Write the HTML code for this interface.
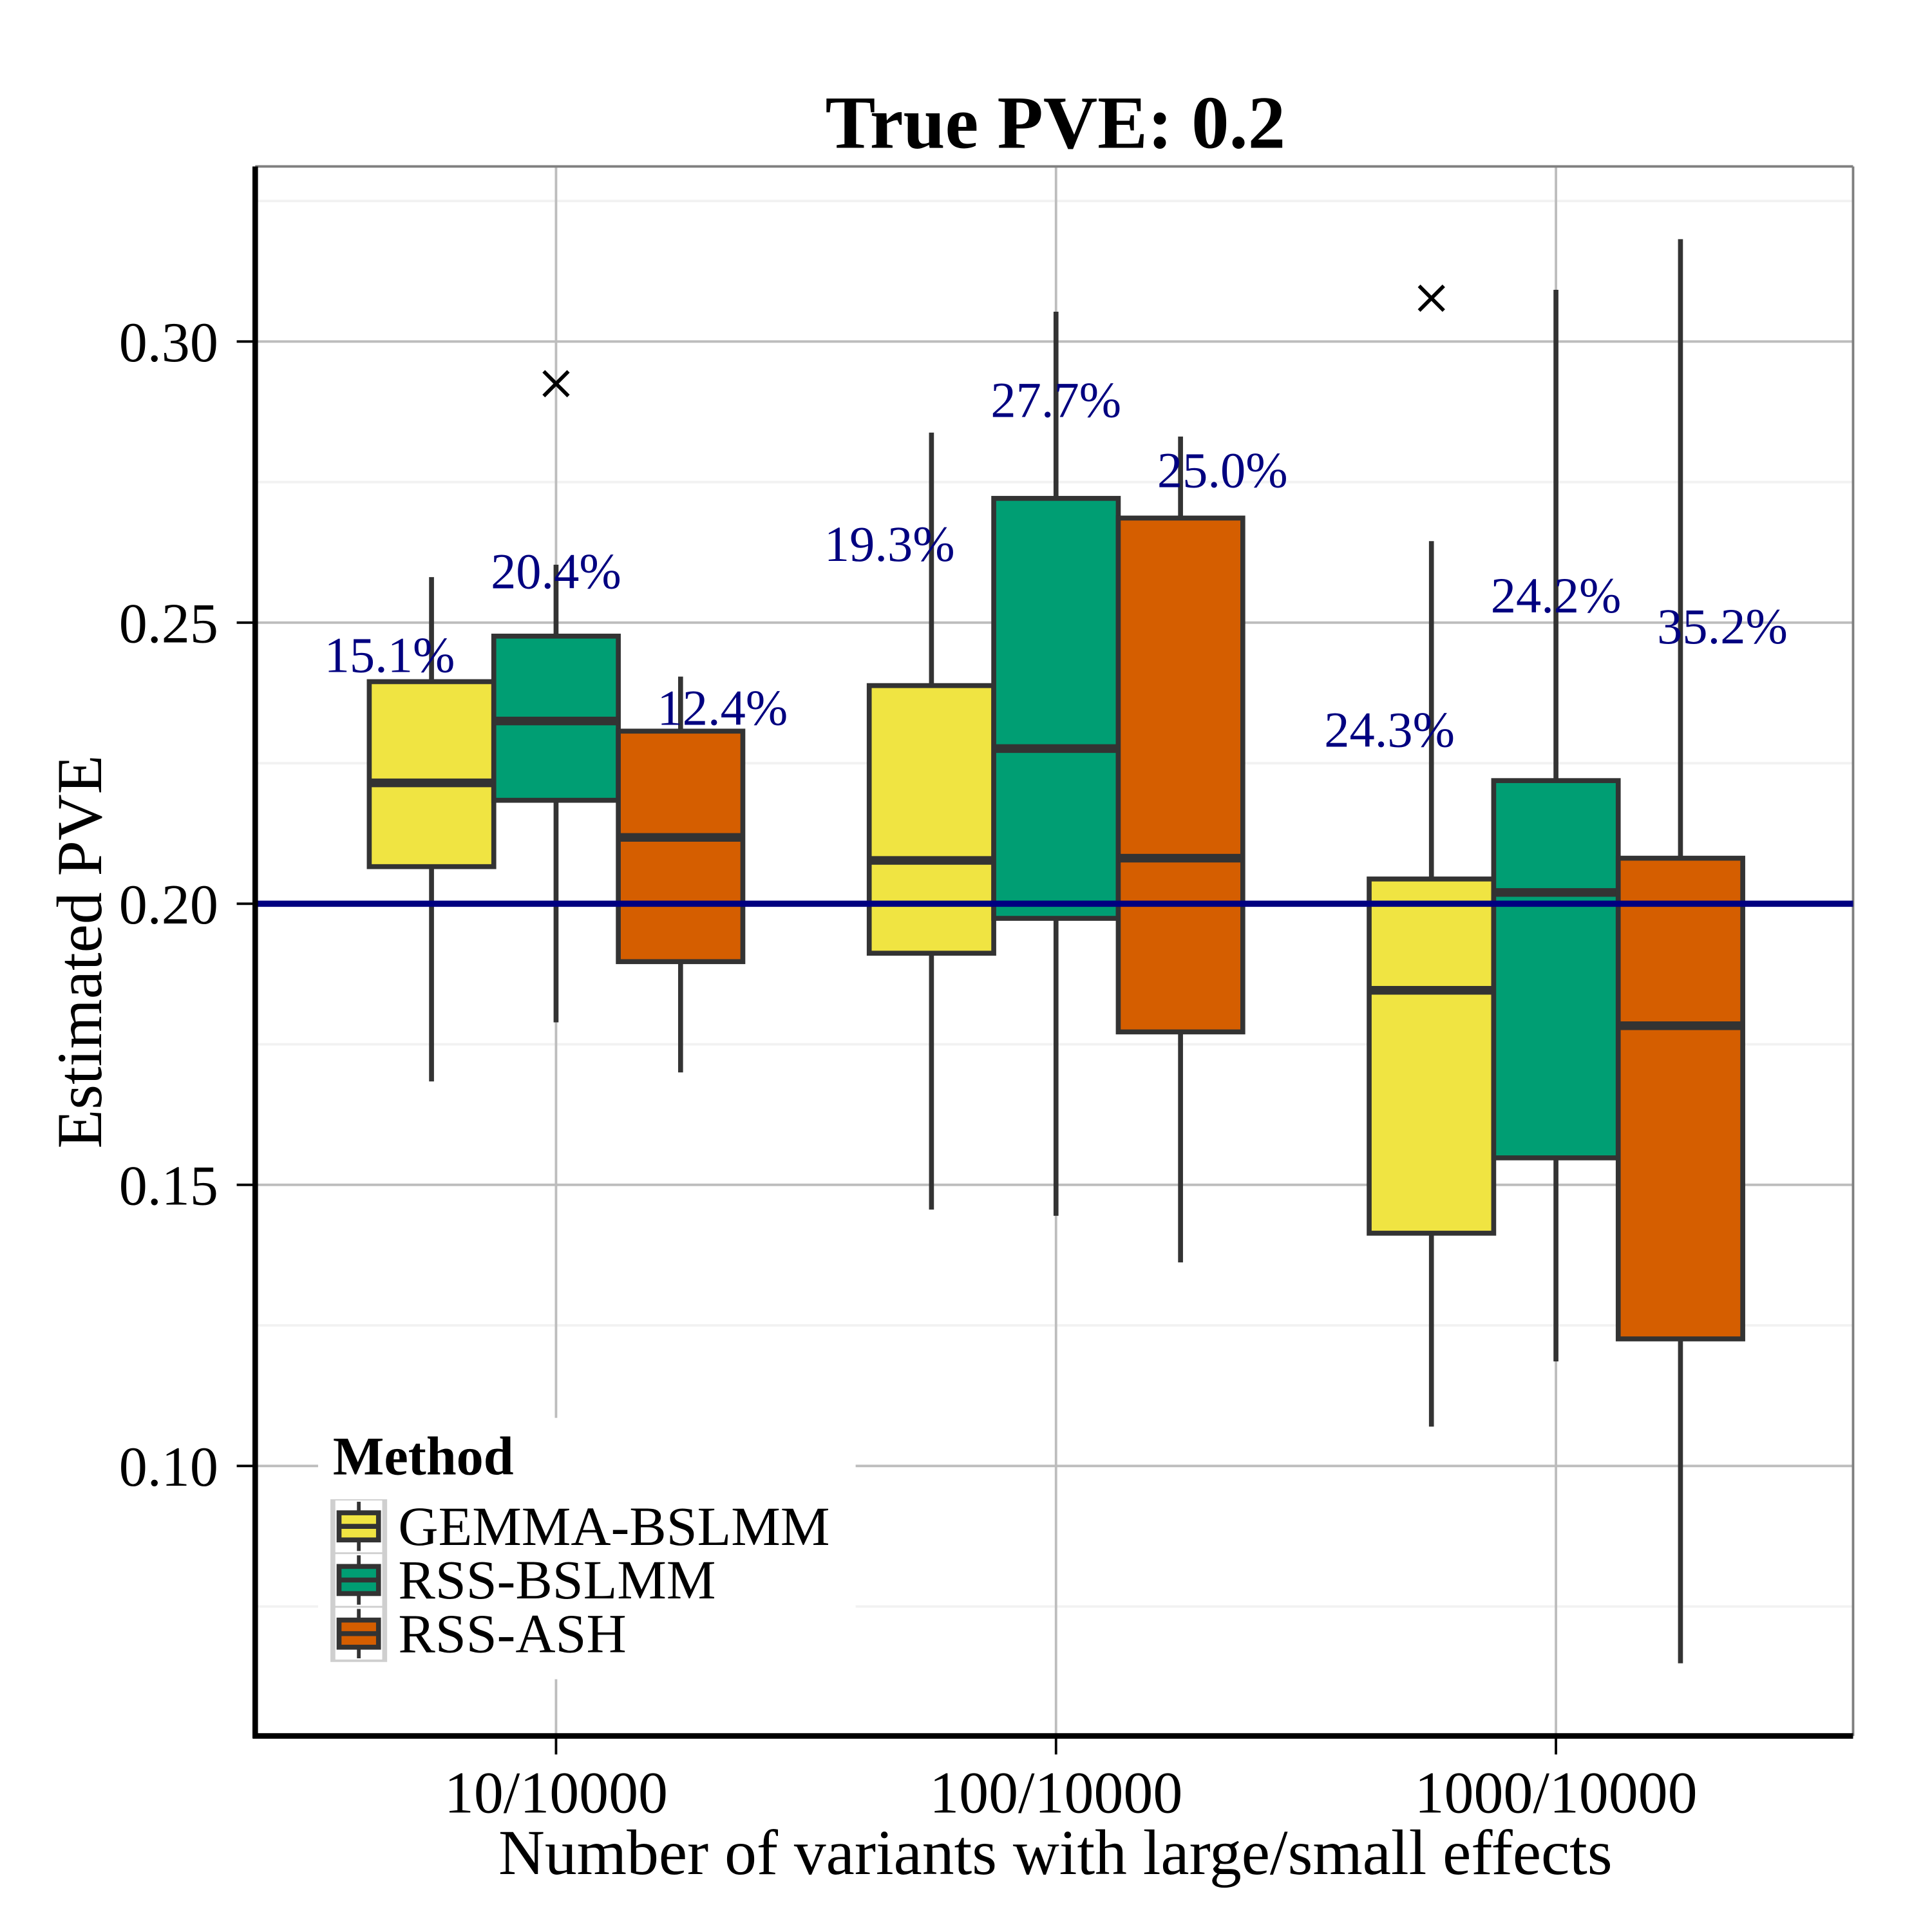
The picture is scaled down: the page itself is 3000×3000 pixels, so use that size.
<!DOCTYPE html>
<html><head><meta charset="utf-8"><style>
html,body{margin:0;padding:0;background:#fff}
svg{display:block}
text{font-family:"Liberation Serif",serif}
</style></head><body>
<svg id="chart" width="3000" height="3000" viewBox="0 0 1567 1567" xmlns="http://www.w3.org/2000/svg">
<rect x="0" y="0" width="1567" height="1567" fill="#fff"/>
<g id="grid"></g>
<g id="marks"></g>
<g id="labels"></g>
<g id="axes"></g>
<text x="856" y="120" text-anchor="middle" font-size="61" font-weight="bold">True PVE: 0.2</text>
<text x="856" y="1520" text-anchor="middle" font-size="52">Number of variants with large/small effects</text>
<text transform="translate(82,772) rotate(-90)" text-anchor="middle" font-size="52">Estimated PVE</text>
<g id="legend"></g>
</svg>
<script>
const categories = ["10/10000","100/10000","1000/10000"];
const methods = ["GEMMA-BSLMM","RSS-BSLMM","RSS-ASH"];
const colors = ["#f0e442","#009e73","#d55e00"];
const yTicks = [0.10,0.15,0.20,0.25,0.30];
const yTickLabels = ["0.10","0.15","0.20","0.25","0.30"];
const yMinor = [0.075,0.125,0.175,0.225,0.275,0.325];
// per group, per method: [low, q1, median, q3, high]
const gemmaStats = [[0.1684,0.2066,0.2215,0.2395,0.2581],[0.1456,0.1912,0.2077,0.2388,0.2838],[0.107,0.1414,0.1846,0.2044,0.2645]];
const bslmmStats = [[0.1789,0.2184,0.2325,0.2476,0.2603],[0.1445,0.1974,0.2276,0.2721,0.3053],[0.1186,0.1548,0.202,0.2219,0.3092]];
const ashStats = [[0.170,0.1897,0.2118,0.2307,0.2404],[0.1362,0.1772,0.2081,0.2686,0.2831],[0.0649,0.1226,0.1783,0.2081,0.3182]];
const outlierGroups = [0,2];
const outlierMethods = [1,0];
const outlierValues = [0.2925,0.3077];
const pctLabels = [["15.1%","20.4%","12.4%"],["19.3%","27.7%","25.0%"],["24.3%","24.2%","35.2%"]];
const pctY = [[0.2412,0.2561,0.2318],[0.2610,0.2866,0.2741],[0.2279,0.2518,0.2463]];
const trueValue = 0.2;

const NS="http://www.w3.org/2000/svg";
const L=207,R=1503,T=135,B=1408;
const y=v=>733-(v-0.2)*4560;
const xc=i=>451+i*405.5;
const BW=101;
function mk(tag,attrs,parent){const e=document.createElementNS(NS,tag);for(const k in attrs)e.setAttribute(k,attrs[k]);parent.appendChild(e);return e;}
const grid=document.getElementById('grid'),marks=document.getElementById('marks'),labels=document.getElementById('labels'),axes=document.getElementById('axes'),legend=document.getElementById('legend');
yMinor.forEach(v=>{const l=mk('line',{x1:L,x2:R,y1:y(v),y2:y(v),stroke:'#f2f2f2','stroke-width':2},grid);

});
yTicks.forEach(v=>{const l=mk('line',{x1:L,x2:R,y1:y(v),y2:y(v),stroke:'#bdbdbd','stroke-width':2},grid);

});
categories.forEach((c,i)=>{const l=mk('line',{x1:xc(i),x2:xc(i),y1:T,y2:B,stroke:'#bdbdbd','stroke-width':2},grid);

});
mk('line',{x1:L,x2:R,y1:T,y2:T,stroke:'#7f7f7f','stroke-width':2},grid);
mk('line',{x1:R,x2:R,y1:T,y2:B,stroke:'#7f7f7f','stroke-width':2},grid);
const allStats=[gemmaStats,bslmmStats,ashStats];
categories.forEach((c,g)=>{methods.forEach((m,k)=>{
 const s=allStats[k][g];const cx=xc(g)+(k-1)*BW;
 const w1=mk('line',{x1:cx,x2:cx,y1:y(s[4]),y2:y(s[3]),stroke:'#333','stroke-width':4},marks);
 
 
 const w2=mk('line',{x1:cx,x2:cx,y1:y(s[1]),y2:y(s[0]),stroke:'#333','stroke-width':4},marks);
 
 
 const b=mk('rect',{x:cx-BW/2,y:y(s[3]),width:BW,height:y(s[1])-y(s[3]),fill:colors[k],stroke:'#333','stroke-width':4},marks);
 
 
 const md=mk('line',{x1:cx-BW/2,x2:cx+BW/2,y1:y(s[2]),y2:y(s[2]),stroke:'#333','stroke-width':7},marks);
 
 
 const t=mk('text',{x:xc(g)+(k-1)*135,y:y(pctY[g][k]),'text-anchor':'middle','font-size':41,fill:'#000080'},labels);
 t.textContent=pctLabels[g][k];
 
 
});});
outlierValues.forEach((v,i)=>{const cx=xc(outlierGroups[i])+(outlierMethods[i]-1)*BW,cy=y(v);
 const p=mk('path',{d:`M${cx-10},${cy-10}L${cx+10},${cy+10}M${cx-10},${cy+10}L${cx+10},${cy-10}`,stroke:'#000','stroke-width':3,fill:'none'},marks);
 
 });
const tl=mk('line',{x1:L,x2:R,y1:y(trueValue),y2:y(trueValue),stroke:'#000080','stroke-width':5},marks);


// legend
const lb=mk('rect',{x:258,y:1150,width:436,height:212,fill:'#fff'},legend);


const lt=mk('text',{x:270,y:1196,'font-size':44,'font-weight':'bold'},legend);
lt.textContent='Method';


mk('rect',{x:268,y:1216,width:46,height:132,fill:'#cfcfcf'},legend);
methods.forEach((m,k)=>{const cy=1238+k*43.5;
 const g=mk('g',{},legend);
 
 
 mk('rect',{x:272,y:cy-21,width:38,height:42,fill:'#fff'},g);
 mk('line',{x1:291,x2:291,y1:cy-20,y2:cy+20,stroke:'#333','stroke-width':3},g);
 mk('rect',{x:275,y:cy-11,width:32,height:22,fill:colors[k],stroke:'#333','stroke-width':4},g);
 mk('line',{x1:275,x2:307,y1:cy,y2:cy,stroke:'#333','stroke-width':4},g);
 const t=mk('text',{x:323,y:cy+15,'font-size':45},g);t.textContent=m;});
// axes
mk('line',{x1:L,x2:L,y1:T,y2:B+2,stroke:'#000','stroke-width':4.5},axes);
mk('line',{x1:L-2,x2:R,y1:B,y2:B,stroke:'#000','stroke-width':4.5},axes);
yTicks.forEach((v,i)=>{mk('line',{x1:L-15,x2:L,y1:y(v),y2:y(v),stroke:'#000','stroke-width':2},axes);
 const t=mk('text',{x:177,y:y(v)+16,'text-anchor':'end','font-size':46},axes);t.textContent=yTickLabels[i];
 
 });
categories.forEach((c,i)=>{mk('line',{x1:xc(i),x2:xc(i),y1:B,y2:B+15,stroke:'#000','stroke-width':2},axes);
 const t=mk('text',{x:xc(i),y:1470,'text-anchor':'middle','font-size':48},axes);t.textContent=c;
 
 });
</script>
</body></html>
